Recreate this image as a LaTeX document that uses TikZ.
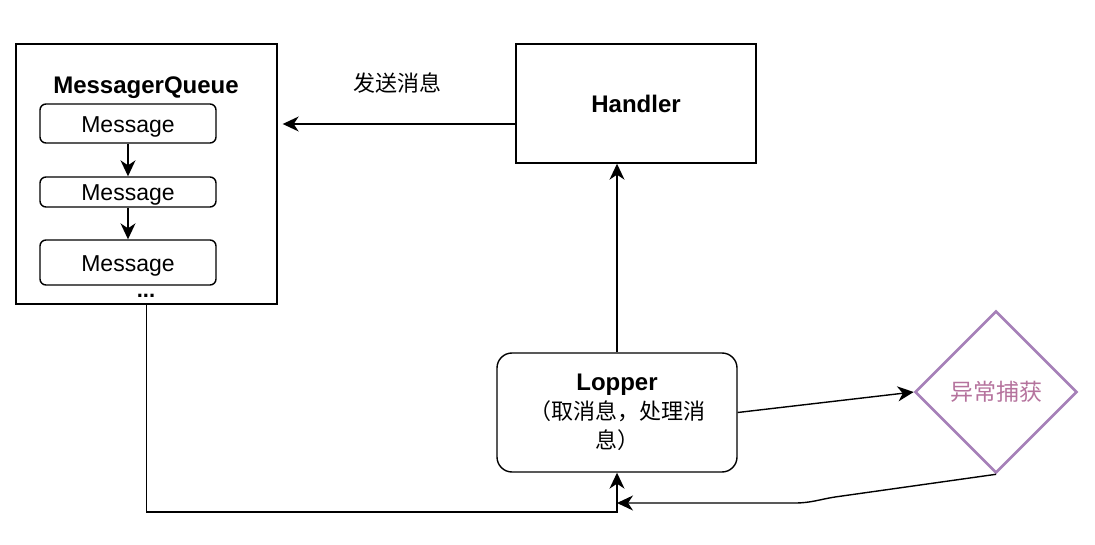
\documentclass[tikz,border=0pt]{standalone}
\usepackage{fontspec}
\setmainfont{Liberation Sans}
\newfontfamily\cjk{Noto Sans CJK SC}
\usetikzlibrary{shapes.geometric,arrows.meta}
\definecolor{purpstroke}{HTML}{A680B8}
\definecolor{purptext}{HTML}{B5739D}
\newcommand{\msgtext}{\raisebox{-3pt}[\height][\depth]{Message}}
\tikzset{
  box/.style={draw, line width=1.4pt, inner sep=0pt, align=center},
  msg/.style={box, rounded corners=6pt, minimum width=176pt, font=\fontsize{23}{26}\selectfont},
  arr/.style={line width=1.4pt, -{Stealth[length=16pt,width=15pt,inset=5pt]}},
  lbl/.style={inner sep=0pt, align=center},
}
\begin{document}
\begin{tikzpicture}[x=1pt,y=-1pt]
\useasboundingbox (0,0) rectangle (1095,545);
% MessagerQueue container
\node[box, minimum width=261pt, minimum height=260pt] (mq) at (146.5,174) {};
\node[lbl, font=\fontsize{24}{27}\selectfont\bfseries] (mqt) at (146,88) {MessagerQueue};
\node[msg, minimum height=39pt] (m1) at (128,123.5) {\msgtext};
\node[msg, minimum height=30pt] (m2) at (128,192) {\msgtext};
\node[msg, minimum height=45pt] (m3) at (128,262.5) {\msgtext};
\node[lbl, font=\fontsize{22}{26}\selectfont\bfseries] (dots) at (146,296) {...};
\draw[arr] (m1.south) -- (m2.north);
\draw[arr] (m2.south) -- (m3.north);
% Handler
\node[box, minimum width=240pt, minimum height=119pt, font=\fontsize{24}{27}\selectfont\bfseries] (handler) at (636,103.5) {Handler};
\draw[arr, shorten >=5pt] ([yshift=-20.5pt]handler.west) -- ([yshift=-20.5pt]handler.west -| mq.east);
\node[lbl, font=\fontsize{22}{26}\selectfont\cjk] (send) at (397,83) {发送消息};
% Lopper
\node[box, rounded corners=15pt, minimum width=240pt, minimum height=119pt, font=\fontsize{22}{29}\selectfont] (lopper) at (617,412.5)
  {{\fontsize{24}{29}\selectfont\textbf{Lopper}}\\{\cjk （取消息，处理消}\\{\cjk 息）}};
\draw[arr] (lopper.north) -- (lopper.north |- handler.south);
% Exception diamond
\node[diamond, draw=purpstroke, line width=2.6pt, minimum width=162pt, minimum height=162pt, inner sep=0pt, text=purptext, font=\fontsize{23}{27}\selectfont\cjk] (dia) at (996,392) {异常捕获};
\draw[arr] (lopper.east) -- (dia.west);
\coordinate (c1) at (835,497);
\coordinate (c2) at (795,503);
\draw[arr] (dia.south) -- (c1) to[out=189,in=0] (c2) -- (lopper.south |- c2);
% Queue to Lopper
\coordinate (c3) at (146.5,512);
\draw[arr] (mq.south) -- (c3) -| (lopper.south);
\end{tikzpicture}
\end{document}
